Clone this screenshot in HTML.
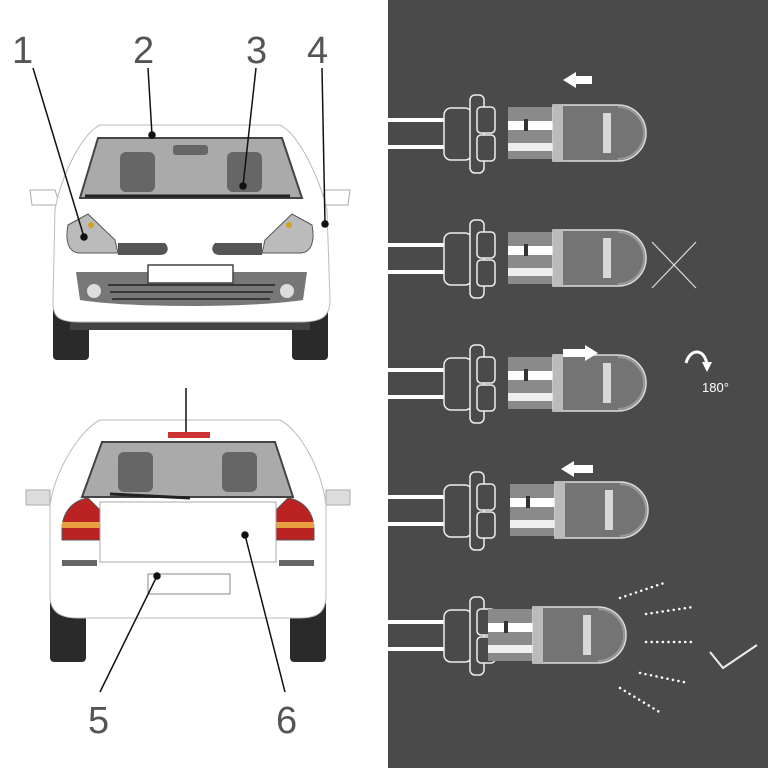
<!DOCTYPE html>
<html><head><style>html,body{margin:0;padding:0;background:#fff}svg{display:block}</style></head><body>
<svg width="768" height="768" viewBox="0 0 768 768" xmlns="http://www.w3.org/2000/svg" font-family="Liberation Sans, sans-serif">
<defs>
<g id="sock">
 <line x1="388" y1="-13" x2="445" y2="-13" stroke="#fff" stroke-width="4"/>
 <line x1="388" y1="14" x2="445" y2="14" stroke="#fff" stroke-width="4"/>
 <rect x="444" y="-25" width="28" height="52" rx="7" fill="#4a4a4a" stroke="#eee" stroke-width="1.5"/>
 <rect x="470" y="-38" width="14" height="78" rx="5" fill="#4a4a4a" stroke="#eee" stroke-width="1.5"/>
 <rect x="477" y="-26" width="18" height="26" rx="4" fill="#4a4a4a" stroke="#eee" stroke-width="1.5"/>
 <rect x="477" y="2" width="18" height="26" rx="4" fill="#4a4a4a" stroke="#eee" stroke-width="1.5"/>
</g>
<g id="bulb">
 <rect x="0" y="-26" width="50" height="52" fill="#8a8a8a"/>
 <rect x="0" y="-12" width="48" height="9" fill="#fff"/>
 <rect x="0" y="10" width="48" height="8" fill="#eee"/>
 <rect x="16" y="-14" width="4" height="12" fill="#333"/>
 <path d="M45,-28 H110 A28,28 0 0 1 110,28 H45 Z" fill="#747474" stroke="#ddd" stroke-width="1.5"/>
 <rect x="45" y="-28" width="10" height="56" fill="#bbb"/>
 <rect x="95" y="-20" width="8" height="40" fill="#d8d8d8"/>
 <path d="M110,-26 A26,26 0 0 1 110,26" fill="none" stroke="#999" stroke-width="2"/>
</g>
</defs>
<rect x="388" y="0" width="380" height="768" fill="#4a4a4a"/>

<g transform="translate(0,133)"><use href="#sock"/><use href="#bulb" transform="translate(508,0)"/></g>
<g transform="translate(0,258)"><use href="#sock"/><use href="#bulb" transform="translate(508,0)"/></g>
<g transform="translate(0,383)"><use href="#sock"/><use href="#bulb" transform="translate(508,0)"/></g>
<g transform="translate(0,510)"><use href="#sock"/><use href="#bulb" transform="translate(510,0)"/></g>
<g transform="translate(0,635)"><use href="#sock"/><use href="#bulb" transform="translate(488,0)"/></g>
<path d="M563,80 L576,72 V76 H592 V84 H576 V88 Z" fill="#fff"/>
<path d="M598,353 L585,345 V349 H563 V357 H585 V361 Z" fill="#fff"/>
<path d="M561,469 L574,461 V465 H593 V473 H574 V477 Z" fill="#fff"/>
<line x1="652" y1="242" x2="696" y2="288" stroke="#ddd" stroke-width="1.2"/>
<line x1="696" y1="242" x2="652" y2="288" stroke="#ddd" stroke-width="1.2"/>
<path d="M686,363 C690,348 705,348 707,365" fill="none" stroke="#fff" stroke-width="3"/>
<path d="M702,362 L707,372 L712,362 Z" fill="#fff"/>
<text x="702" y="392" fill="#fff" font-size="13">180°</text>
<g stroke="#fff" stroke-width="2.5" stroke-linecap="round" stroke-dasharray="0.1 5.5">
<line x1="620" y1="598" x2="664" y2="583"/>
<line x1="646" y1="614" x2="693" y2="607"/>
<line x1="646" y1="642" x2="694" y2="642"/>
<line x1="640" y1="673" x2="688" y2="683"/>
<line x1="620" y1="688" x2="661" y2="713"/>
</g>
<polyline points="710,652 723,668 757,645" fill="none" stroke="#eee" stroke-width="2"/>

<!-- FRONT CAR -->
<g stroke="#aaa" stroke-width="1">
<rect x="53" y="300" width="36" height="60" rx="4" fill="#2a2a2a" stroke="none"/>
<rect x="292" y="300" width="36" height="60" rx="4" fill="#2a2a2a" stroke="none"/>
<rect x="70" y="318" width="240" height="12" fill="#444" stroke="none"/>
<path d="M30,190 H55 L60,205 H32 Z" fill="#fff"/>
<path d="M350,190 H325 L320,205 H348 Z" fill="#fff"/>
<path d="M55,210 C60,180 80,135 100,125 H280 C300,135 320,180 327,210 L330,300 C330,318 320,322 300,322 H80 C60,322 52,318 53,300 Z" fill="#fff" stroke="#bbb"/>
<path d="M80,198 L98,138 H282 L302,198 Z" fill="#aaa" stroke="#444" stroke-width="2"/>
<rect x="120" y="152" width="35" height="40" rx="6" fill="#666" stroke="none"/>
<rect x="227" y="152" width="35" height="40" rx="6" fill="#666" stroke="none"/>
<rect x="173" y="145" width="35" height="10" rx="3" fill="#666" stroke="none"/>
<line x1="85" y1="196" x2="290" y2="196" stroke="#222" stroke-width="3"/>
<path d="M68,225 L88,214 L115,240 L118,253 H80 C68,253 65,240 68,225 Z" fill="#bbb" stroke="#555"/>
<path d="M312,225 L292,214 L265,240 L262,253 H300 C312,253 315,240 312,225 Z" fill="#bbb" stroke="#555"/>
<path d="M118,243 H165 C170,248 168,255 160,255 H118 Z" fill="#555" stroke="none"/>
<path d="M262,243 H215 C210,248 212,255 220,255 H262 Z" fill="#555" stroke="none"/>
<circle cx="91" cy="225" r="3" fill="#d4a020" stroke="none"/>
<circle cx="289" cy="225" r="3" fill="#d4a020" stroke="none"/>
<path d="M76,272 H307 L303,300 C250,308 130,308 80,300 Z" fill="#777" stroke="none"/>
<rect x="148" y="265" width="85" height="18" fill="#fff" stroke="#444" stroke-width="1.5"/>
<circle cx="94" cy="291" r="7" fill="#ddd" stroke="none"/>
<circle cx="287" cy="291" r="7" fill="#ddd" stroke="none"/>
<g stroke="#222" stroke-width="1.5"><line x1="108" y1="285" x2="275" y2="285"/><line x1="110" y1="292" x2="273" y2="292"/><line x1="112" y1="299" x2="270" y2="299"/></g>
</g>
<!-- REAR CAR -->
<g stroke="#aaa" stroke-width="1">
<rect x="50" y="600" width="36" height="62" rx="4" fill="#2a2a2a" stroke="none"/>
<rect x="290" y="600" width="36" height="62" rx="4" fill="#2a2a2a" stroke="none"/>
<path d="M26,490 H50 V505 H26 Z" fill="#ddd"/>
<path d="M350,490 H326 V505 H350 Z" fill="#ddd"/>
<path d="M50,505 C55,470 80,430 100,420 H280 C300,430 322,470 326,505 L326,595 C326,612 318,618 300,618 H78 C60,618 50,612 50,595 Z" fill="#fff" stroke="#bbb"/>
<path d="M82,497 L102,442 H275 L293,497 Z" fill="#aaa" stroke="#444" stroke-width="2"/>
<rect x="118" y="452" width="35" height="40" rx="6" fill="#666" stroke="none"/>
<rect x="222" y="452" width="35" height="40" rx="6" fill="#666" stroke="none"/>
<rect x="168" y="432" width="42" height="6" fill="#c33" stroke="none"/>
<line x1="110" y1="494" x2="190" y2="498" stroke="#222" stroke-width="3"/>
<path d="M62,530 C62,510 75,500 88,498 L100,510 L100,540 H62 Z" fill="#b22" stroke="#555"/>
<path d="M314,530 C314,510 301,500 288,498 L276,510 L276,540 H314 Z" fill="#b22" stroke="#555"/>
<rect x="62" y="522" width="38" height="6" fill="#e8a040" stroke="none"/>
<rect x="276" y="522" width="38" height="6" fill="#e8a040" stroke="none"/>
<rect x="100" y="502" width="176" height="60" fill="#fff"/>
<rect x="62" y="560" width="35" height="6" fill="#666" stroke="none"/>
<rect x="279" y="560" width="35" height="6" fill="#666" stroke="none"/>
<rect x="148" y="574" width="82" height="20" fill="#fff" stroke="#888"/>
</g>
<g stroke="#111" stroke-width="1.5">
<line x1="33" y1="68" x2="84" y2="237"/><circle cx="84" cy="237" r="3" fill="#111"/>
<line x1="148" y1="68" x2="152" y2="135"/><circle cx="152" cy="135" r="3" fill="#111"/>
<line x1="256" y1="68" x2="243" y2="186"/><circle cx="243" cy="186" r="3" fill="#111"/>
<line x1="322" y1="68" x2="325" y2="224"/><circle cx="325" cy="224" r="3" fill="#111"/>
<line x1="186" y1="388" x2="186" y2="432"/>
<line x1="100" y1="692" x2="157" y2="576"/><circle cx="157" cy="576" r="3" fill="#111"/>
<line x1="285" y1="692" x2="245" y2="535"/><circle cx="245" cy="535" r="3" fill="#111"/>
</g>
<g fill="#555" font-size="38">
<text x="12" y="63">1</text><text x="133" y="63">2</text><text x="246" y="63">3</text><text x="307" y="63">4</text>
<text x="88" y="733">5</text><text x="276" y="733">6</text>
</g>
</svg>
</body></html>
